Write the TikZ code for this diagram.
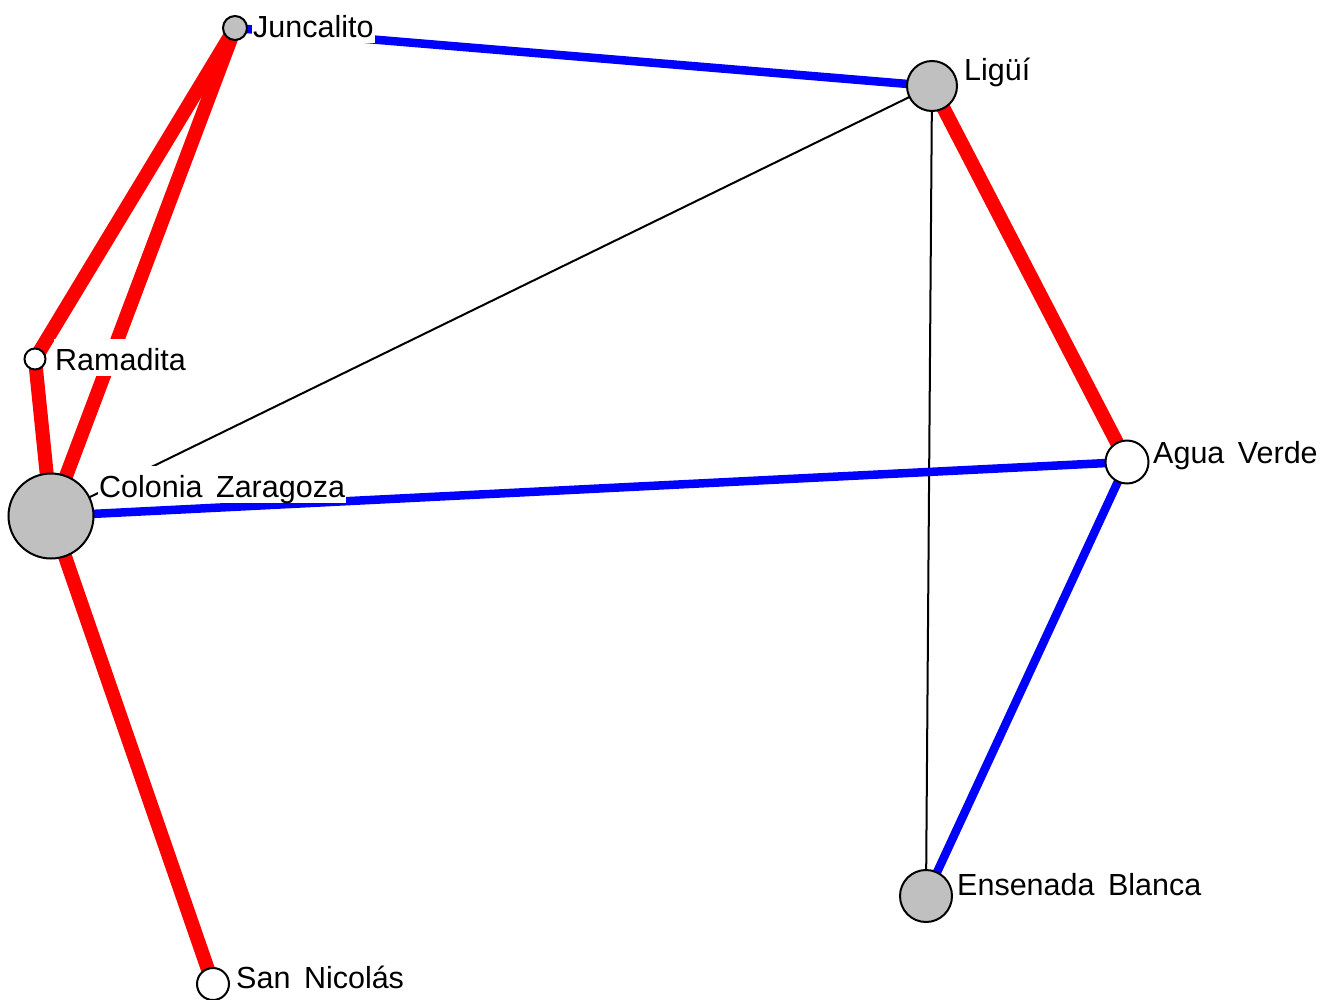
\documentclass[tikz,border=0pt]{standalone}
\usepackage{fontspec}
\setmainfont[WordSpace=1.6]{Liberation Sans}
\definecolor{nodegrey}{RGB}{192,192,192}
\definecolor{linkred}{RGB}{255,0,0}
\definecolor{linkblue}{RGB}{0,0,255}
\tikzset{
  vertex/.style={circle, draw=black, line width=2pt, inner sep=0pt},
  greyvertex/.style={vertex, fill=nodegrey},
  whitevertex/.style={vertex, fill=white},
  place/.style={anchor=base west, fill=white, inner xsep=1pt, inner ysep=0pt,
    text height=31pt, text depth=6pt,
    font=\fontsize{30.5}{36}\selectfont},
  strongtie/.style={draw=linkred, line width=14pt},
  mediumtie/.style={draw=linkblue, line width=8.5pt},
  weaktie/.style={draw=black, line width=2pt},
}
\begin{document}
\begin{tikzpicture}[x=1pt, y=-1pt]
\useasboundingbox[fill=white] (0,0) rectangle (1336,999);

% positions of the communities
\coordinate (pJ) at (235,28);
\coordinate (pL) at (932,86);
\coordinate (pR) at (35,359);
\coordinate (pC) at (51,516);
\coordinate (pA) at (1127,462);
\coordinate (pE) at (926,896);
\coordinate (pS) at (213,984);

% weak ties
\draw[weaktie] (pC) -- (pL);
\draw[weaktie] (pL) -- (pE);

% medium ties
\draw[mediumtie] (pJ) -- (pL);
\draw[mediumtie] (pC) -- (pA);
\draw[mediumtie] (pA) -- (pE);

% strong ties
\draw[strongtie] (pJ) -- (pR);
\draw[strongtie] (pJ) -- (pC);
\draw[strongtie] (pR) -- (pC);
\draw[strongtie] (pC) -- (pS);
\draw[strongtie] (pL) -- (pA);

% community nodes
\node[greyvertex,  minimum size=24pt] (juncalito) at (pJ) {};
\node[greyvertex,  minimum size=50pt] (ligui)     at (pL) {};
\node[whitevertex, minimum size=21pt] (ramadita)  at (pR) {};
\node[greyvertex,  minimum size=85pt] (colonia)   at (pC) {};
\node[whitevertex, minimum size=43pt] (agua)      at (pA) {};
\node[greyvertex,  minimum size=52pt] (ensenada)  at (pE) {};
\node[whitevertex, minimum size=32pt] (nicolas)   at (pS) {};

% names
\node[place] (tJ) at (252,37)  {Juncalito};
\node[place] (tL) at (963,80)  {Ligüí};
\node[place] (tR) at (54,370)  {Ramadita};
\node[place] (tC) at (98,497)  {Colonia Zaragoza};
\node[place] (tA) at (1152,463) {Agua Verde};
\node[place] (tE) at (956,895) {Ensenada Blanca};
\node[place] (tS) at (235,988) {San Nicolás};
\end{tikzpicture}
\end{document}
